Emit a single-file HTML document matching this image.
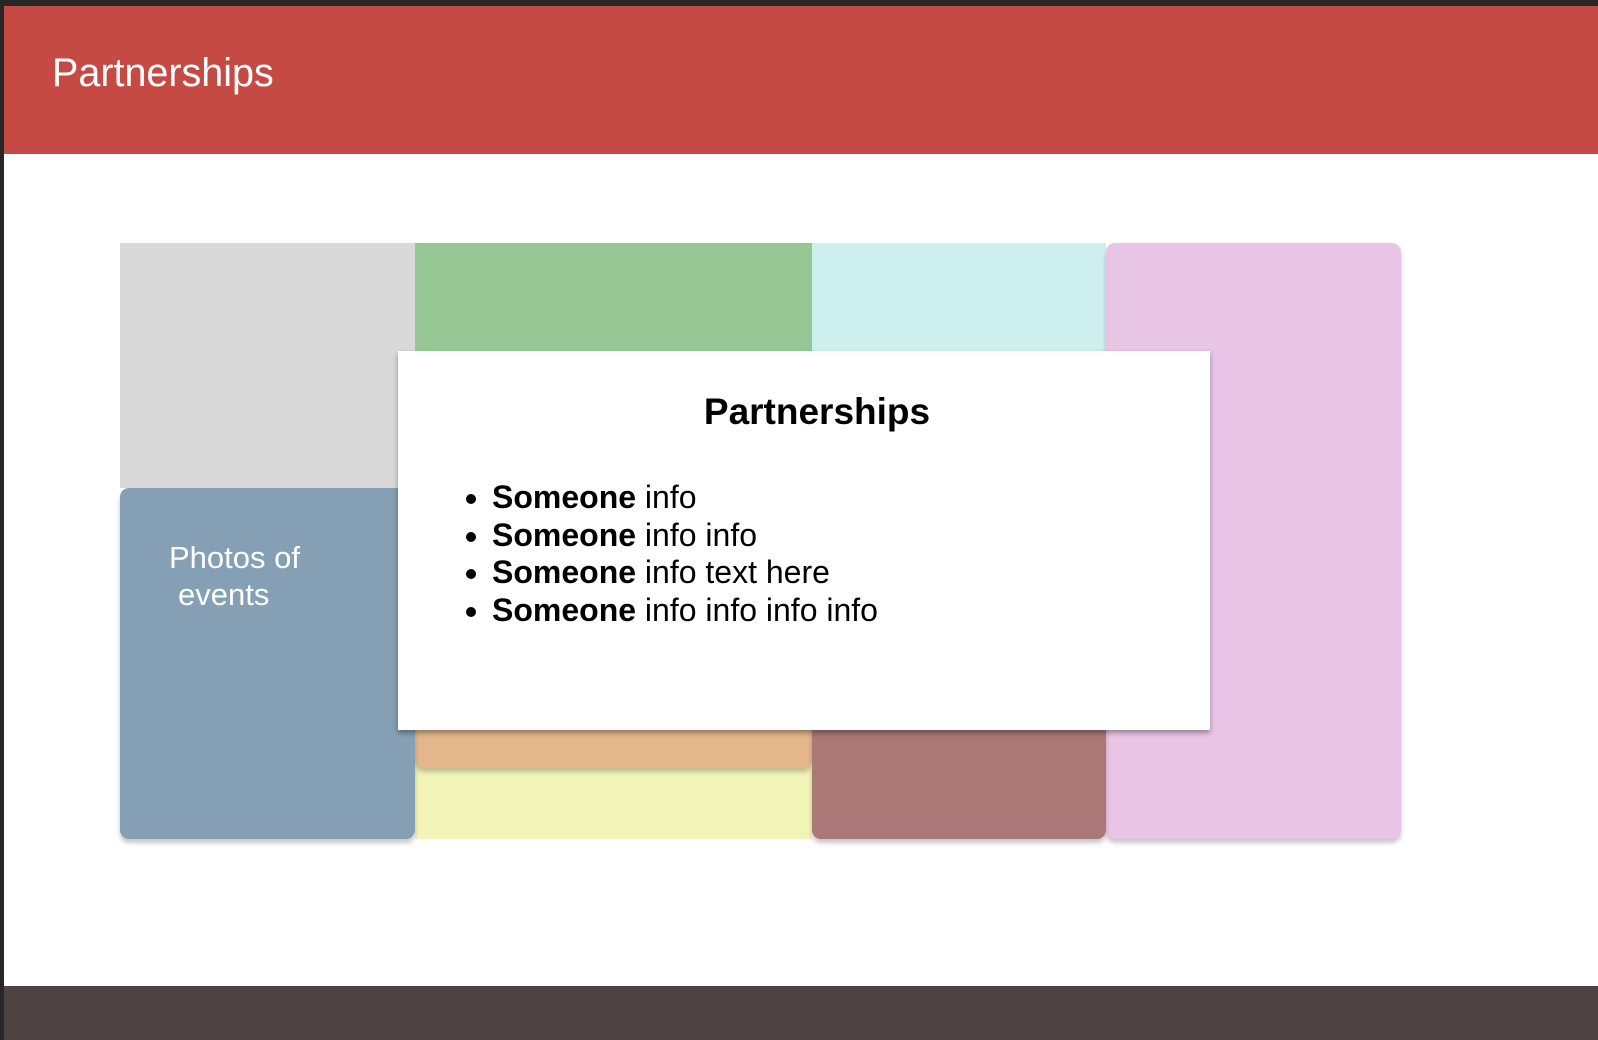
<!DOCTYPE html>
<html><head><meta charset="utf-8"><style>
*{margin:0;padding:0;box-sizing:border-box}
body{width:1598px;height:1040px;position:relative;overflow:hidden;background:#fff;font-family:"Liberation Sans","DejaVu Sans",sans-serif}
.a{position:absolute}
.sh{box-shadow:0 4px 5px rgba(0,0,0,0.22)}
</style></head><body>
<div class="a" style="left:0;top:0;width:1598px;height:6px;background:#262626"></div>
<div class="a" style="left:0;top:0;width:4px;height:1040px;background:#262626"></div>
<div class="a" style="left:4px;top:6px;width:1594px;height:148px;background:#c64a44"></div>
<div class="a" style="left:52px;top:50px;color:#fff;font-size:39.5px;line-height:46px">Partnerships</div>
<div class="a" style="left:4px;top:986px;width:1594px;height:54px;background:#4e4343"></div>

<div class="a" style="left:120px;top:243px;width:295px;height:245px;background:#d9d9d9"></div>
<div class="a" style="left:415px;top:243px;width:397px;height:108px;background:#97c695"></div>
<div class="a" style="left:812px;top:243px;width:294px;height:108px;background:#cdf0ee"></div>
<div class="a sh" style="left:1106px;top:243px;width:295px;height:596px;background:#e9c5e5;border-radius:9px"></div>
<div class="a" style="left:415px;top:760px;width:397px;height:79px;background:#f2f3b6"></div>
<div class="a sh" style="left:415px;top:725px;width:397px;height:43px;background:#e4b68a;border-radius:0 0 9px 9px"></div>
<div class="a sh" style="left:812px;top:725px;width:294px;height:114px;background:#aa7876;border-radius:0 0 9px 9px"></div>
<div class="a sh" style="left:120px;top:488px;width:295px;height:351px;background:#859fb4;border-radius:9px"></div>
<div class="a" style="left:169px;top:539px;width:180px;color:#fff;font-size:31px;line-height:37px">Photos of<br><span style="padding-left:9px">events</span></div>

<div class="a" style="left:398px;top:351px;width:812px;height:379px;background:#fff;box-shadow:0 3px 5px rgba(0,0,0,0.35)">
  <div class="a" style="left:0;top:39px;width:838px;text-align:center;font-weight:bold;font-size:37px;line-height:44px;color:#000">Partnerships</div>
  <ul class="a" style="left:94px;top:128px;font-size:32px;line-height:37.5px;color:#000;list-style:disc">
    <li><b>Someone</b> info</li>
    <li><b>Someone</b> info info</li>
    <li><b>Someone</b> info text here</li>
    <li><b>Someone</b> info info info info</li>
  </ul>
</div>
</body></html>
